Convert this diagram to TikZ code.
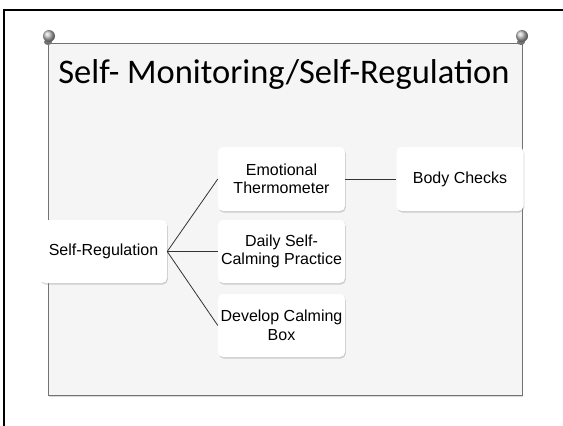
\documentclass[tikz,border=0pt]{standalone}
\usepackage{fontspec}
\setmainfont{Liberation Sans}
\newfontfamily\titlefont{Carlito}
\usetikzlibrary{shadows}

\begin{document}
\begin{tikzpicture}[x=1pt, y=-1pt,
	box/.style={rounded corners=5pt, fill=white, minimum width=127pt, minimum height=63pt,
		align=center, inner sep=2pt, font=\fontsize{16}{18.5}\selectfont,
		drop shadow={shadow xshift=0.8pt, shadow yshift=-1.5pt, opacity=0.35}},
	link/.style={draw=black!80, line width=0.8pt}]
	\useasboundingbox (0,0) rectangle (563,426);
	%frame
	\draw[line width=2pt] (3.5,426) -- (3.5,9.5) -- (563,9.5);
	%panel
	\draw[draw=black!55, fill=black!4, line width=0.8pt,
		drop shadow={shadow xshift=1pt, shadow yshift=-2pt, opacity=0.3}]
	(48,43) rectangle (522,395);
	%pins
	\foreach \px in {48,521}
	{
		\fill[black!55] (\px,42) ellipse (4 and 3);
		\shade[ball color=black!25] (\px+1,36) circle (6);
	}
	%title
	\node[font=\titlefont\fontsize{34.5}{40}\selectfont, anchor=base] (title) at (284,83)
	{Self- Monitoring/Self-Regulation};
	%nodes
	\node[box] (selfreg) at (103.5,251.5) {Self-Regulation};
	\node[box, minimum height=64pt] (emotional) at (281.5,179) {Emotional\\Thermometer};
	\node[box] (daily) at (281.5,251.5) {Daily Self-\\Calming Practice};
	\node[box] (calmbox) at (281.5,325.5) {Develop Calming\\Box};
	\node[box, minimum height=64pt] (bodychecks) at (460,179) {Body Checks};
	%connectors
	\draw[link] (selfreg.east) -- (emotional.west);
	\draw[link] (selfreg.east) -- (daily.west);
	\draw[link] (selfreg.east) -- (calmbox.west);
	\draw[link] (emotional.east) -- (bodychecks.west);
\end{tikzpicture}
\end{document}
